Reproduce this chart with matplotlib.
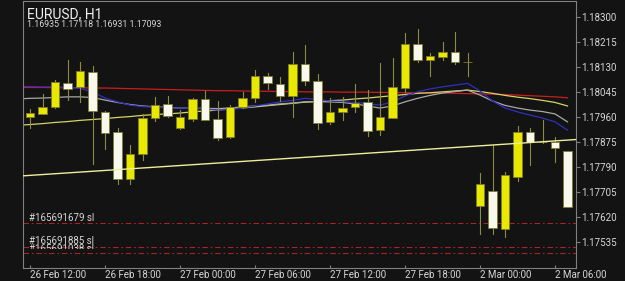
import matplotlib
matplotlib.use('Agg')
import matplotlib.pyplot as plt
from matplotlib.patches import Rectangle

plt.rcParams['font.family'] = ['Roboto', 'DejaVu Sans']
plt.rcParams['lines.scale_dashes'] = False

# EURUSD H1 bars, index 0 = 26 Feb 12:00
opens = [1.17960, 1.17973, 1.17995, 1.18078, 1.18062, 1.18116, 1.17977, 1.17911, 1.17750, 1.17835,
         1.17959, 1.18005, 1.17924, 1.17956, 1.18023, 1.17955, 1.17892, 1.17995, 1.18026, 1.18101,
         1.18074, 1.18032, 1.18141, 1.18084, 1.17943, 1.17977, 1.17994, 1.18011, 1.17916, 1.17959,
         1.18059, 1.18211, 1.18156, 1.18166, 1.18184, 1.18150, 1.17659, 1.17710, 1.17580, 1.17759,
         1.17910, 1.17876, 1.17877, 1.17846]
highs = [1.17989, 1.18040, 1.18087, 1.18155, 1.18150, 1.18135, 1.17982, 1.17924, 1.17866, 1.17971,
         1.18030, 1.18033, 1.17984, 1.18025, 1.18050, 1.18016, 1.18002, 1.18048, 1.18121, 1.18110,
         1.18099, 1.18184, 1.18206, 1.18107, 1.18027, 1.18030, 1.18073, 1.18053, 1.18145, 1.18161,
         1.18246, 1.18261, 1.18180, 1.18218, 1.18252, 1.18178, 1.17771, 1.17866, 1.17773, 1.17931,
         1.17924, 1.17951, 1.17894, 1.17847]
lows = [1.17925, 1.17972, 1.17992, 1.18019, 1.18011, 1.17801, 1.17851, 1.17733, 1.17734, 1.17815,
        1.17948, 1.17962, 1.17922, 1.17948, 1.17950, 1.17882, 1.17890, 1.17991, 1.18013, 1.18057,
        1.18016, 1.17962, 1.18070, 1.17921, 1.17938, 1.17951, 1.17977, 1.17896, 1.17902, 1.17958,
        1.18048, 1.18148, 1.18102, 1.18156, 1.18142, 1.18102, 1.17563, 1.17562, 1.17553, 1.17744,
        1.17798, 1.17874, 1.17809, 1.17654]
closes = [1.17975, 1.17994, 1.18079, 1.18058, 1.18119, 1.17981, 1.17908, 1.17750, 1.17834, 1.17959,
          1.18003, 1.17966, 1.17960, 1.18023, 1.17952, 1.17889, 1.17996, 1.18026, 1.18101, 1.18076,
          1.18034, 1.18143, 1.18085, 1.17941, 1.17977, 1.17993, 1.18009, 1.17915, 1.17960, 1.18062,
          1.18211, 1.18154, 1.18169, 1.18184, 1.18150, 1.18150, 1.17733, 1.17584, 1.17764, 1.17910,
          1.17875, 1.17876, 1.17855, 1.17655]

# moving averages, index -1 .. 43
ma_red = [1.18062, 1.18062, 1.18062, 1.18061, 1.18061, 1.18061, 1.18060,
          1.18060, 1.18059, 1.18058, 1.18057, 1.18056, 1.18055, 1.18054, 1.18053,
          1.18052, 1.18051, 1.18051, 1.18050, 1.18049, 1.18049, 1.18048, 1.18048,
          1.18047, 1.18047, 1.18047, 1.18046, 1.18046, 1.18046, 1.18045, 1.18045, 1.18044,
          1.18044, 1.18043, 1.18043, 1.18042, 1.18041,
          1.18040, 1.18039, 1.18038, 1.18036, 1.18034, 1.18032, 1.18030, 1.18027]
ma_blue = [1.18065, 1.18065, 1.18064, 1.18064, 1.18062, 1.18059, 1.18047, 1.18026, 1.18013, 1.18002,
           1.17997, 1.17995, 1.17993, 1.17992, 1.17990, 1.17989, 1.17985, 1.17987, 1.17992, 1.17999,
           1.18006, 1.18013, 1.18018, 1.18025, 1.18021, 1.18016, 1.18014, 1.18011, 1.18007, 1.18002,
           1.18013, 1.18033, 1.18047, 1.18057, 1.18064, 1.18070, 1.18076, 1.18050, 1.18016, 1.17992,
           1.17979, 1.17968, 1.17958, 1.17945, 1.17917]
ma_gray = [1.18023, 1.18025, 1.18026, 1.18028, 1.18030, 1.18030, 1.18028, 1.18019, 1.18011, 1.18004,
           1.17999, 1.17996, 1.17994, 1.17992, 1.17991, 1.17991, 1.17990, 1.17992, 1.17996, 1.17999,
           1.18002, 1.18006, 1.18009, 1.18013, 1.18014, 1.18013, 1.18011, 1.18006, 1.17999, 1.17992,
           1.17999, 1.18013, 1.18025, 1.18035, 1.18043, 1.18048, 1.18053, 1.18036, 1.18016, 1.18001,
           1.17992, 1.17985, 1.17980, 1.17972, 1.17945]
ma_yellow = [1.17933, 1.17936, 1.17939, 1.17943, 1.17946, 1.17950, 1.17953, 1.17956, 1.17960, 1.17963,
             1.17967, 1.17970, 1.17972, 1.17975, 1.17979, 1.17982, 1.17985, 1.17989, 1.17992, 1.17996,
             1.18000, 1.18004, 1.18008, 1.18012, 1.18014, 1.18017, 1.18019, 1.18023, 1.18026, 1.18030,
             1.18034, 1.18038, 1.18042, 1.18044, 1.18047, 1.18050, 1.18053, 1.18048, 1.18042, 1.18035,
             1.18029, 1.18024, 1.18018, 1.18011, 1.17999]

trend_pts = [(0, 1.17763), (43, 1.17883)]
sl_levels = [1.17602, 1.17520, 1.17500]
sl_labels = ['#165691679 sl', '#165691885 sl', '#165691038 sl']

tick_pos = [0, 6, 12, 18, 24, 30, 36, 42]
tick_labels = ['26 Feb 12:00', '26 Feb 18:00', '27 Feb 00:00', '27 Feb 06:00',
               '27 Feb 12:00', '27 Feb 18:00', '2 Mar 00:00', '2 Mar 06:00']
price_ticks = [1.17535, 1.17620, 1.17705, 1.17790, 1.17875, 1.17960, 1.18045, 1.18130, 1.18215, 1.18300]

bg = '#131313'
txt = '#d6d6d6'
fig = plt.figure(figsize=(6.25, 2.81), dpi=100, facecolor=bg)
ax = fig.add_axes([23 / 625, 13 / 281, 553 / 625, 267 / 281], facecolor=bg)

# MA lines
ma_x = list(range(-1, len(closes)))
ax.plot(ma_x, ma_red, color='#c81e1e', lw=0.9, zorder=2)
ax.plot(ma_x, ma_yellow, color='#d4d468', lw=0.9, zorder=2)
ax.plot(ma_x, ma_gray, color='#a8a8a8', lw=0.9, zorder=2)
ax.plot(ma_x, ma_blue, color='#2f2fc0', lw=0.9, zorder=2)

# candles
w = 0.7
for i in range(len(closes)):
    o, h, l, c = opens[i], highs[i], lows[i], closes[i]
    face = '#e8e800' if c >= o else '#f8f8ec'
    ax.plot([i, i], [l, h], color='#8c8c40', lw=0.8, zorder=3)
    ax.add_patch(Rectangle((i - w / 2, min(o, c)), w, abs(c - o),
                           facecolor=face, edgecolor='#7c7c30', lw=0.6, zorder=4))

# trendline
ax.axline(trend_pts[0], trend_pts[1], color='#eeee9a', lw=1.0, zorder=5)

# stop loss levels
for lvl in sl_levels:
    ax.axhline(lvl, color='#a82424', lw=0.8, linestyle=(0, (4, 2, 1.2, 2)), zorder=1)
ax.text(-0.1, sl_levels[0] + 0.00007, sl_labels[0], color=txt, fontsize=7, va='baseline')
ax.text(-0.1, sl_levels[1] + 0.00011, sl_labels[1], color=txt, fontsize=7, va='baseline')
# third label is mostly hidden behind the one above: only its top shows
t3 = ax.text(-0.1, sl_levels[2] + 0.00001, sl_labels[2], color=txt, fontsize=7, va='baseline')
clip = Rectangle((-1, 1.17511), 50, 0.001, transform=ax.transData)
t3.set_clip_on(True)
t3.set_clip_path(clip)

ax.set_xlim(-0.56, 43.68)
ax.set_ylim(1.17448, 1.18356)

ax.set_xticks(tick_pos)
ax.set_xticklabels(tick_labels)
for lbl in ax.get_xticklabels():
    lbl.set_horizontalalignment('left')
ax.yaxis.tick_right()
ax.set_yticks(price_ticks)
ax.set_yticklabels([f'{p:.5f}' for p in price_ticks])
ax.tick_params(axis='x', direction='in', length=2, color='#808080', labelcolor=txt,
               labelsize=7, pad=1.5)
ax.tick_params(axis='y', direction='out', length=3, color='#808080', labelcolor=txt,
               labelsize=7, pad=1)
for s in ax.spines.values():
    s.set_color('#808080')
    s.set_linewidth(0.8)

fig.text(27 / 625, 1 - 18 / 281, 'EURUSD, H1', color='#f0f0f0', fontsize=10, va='baseline')
fig.text(27 / 625, 1 - 27 / 281, '1.16935 1.17118 1.16931 1.17093', color=txt,
         fontsize=6.3, va='baseline')

fig.savefig('out.png', dpi=100, facecolor=bg)
